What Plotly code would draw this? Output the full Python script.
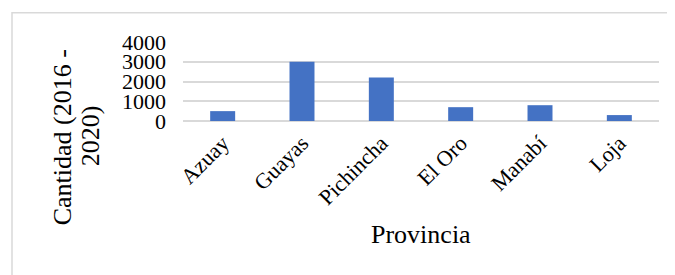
import plotly.graph_objects as go

provincias = ["Azuay", "Guayas", "Pichincha", "El Oro", "Manabí", "Loja"]
cantidad = [500, 3000, 2200, 700, 800, 300]
y_ticks = [0, 1000, 2000, 3000, 4000]

OFF = 8  # page body margin offset
W, H = 675, 275
PW, PH = 476, 80
L, T = 183 - OFF, 41.5 - OFF
R = W - L - PW
B = H - T - PH

def px_x(x):
    return (x - OFF - L) / PW

def px_y(y):
    return (T + PH - (y - OFF)) / PH

FONT = "Liberation Serif"
GRID = "#d9d9d9"

fig = go.Figure(go.Bar(x=provincias, y=cantidad, marker_color="#4472C4",
                       marker_line_width=0))

fig.update_layout(
    width=W, height=H,
    margin=dict(l=L, r=R, t=T, b=B, autoexpand=False),
    paper_bgcolor="white", plot_bgcolor="white",
    bargap=0.685,
    showlegend=False,
    font=dict(family=FONT, color="black", size=22),
)
fig.update_xaxes(showgrid=False, showline=False, tickangle=-45,
                 tickfont=dict(family=FONT, size=22, color="black"), ticks="",
                 ticklabelstandoff=4)
fig.update_yaxes(range=[0, 4000], tickvals=y_ticks,
                 ticktext=[str(v) for v in y_ticks],
                 showgrid=True, gridcolor=GRID, gridwidth=1.5,
                 zeroline=True, zerolinecolor=GRID, zerolinewidth=1.5,
                 tickfont=dict(family=FONT, size=22, color="black"), ticks="",
                 ticklabelstandoff=16)

fig.add_shape(type="rect", xref="paper", yref="paper",
              x0=px_x(12), x1=px_x(690), y0=px_y(295), y1=px_y(12),
              line=dict(color=GRID, width=1.5), fillcolor="rgba(0,0,0,0)",
              layer="below")

fig.add_annotation(text="Cantidad (2016 -", xref="paper", yref="paper",
                   x=px_x(62), y=px_y(138), textangle=-90, showarrow=False,
                   xanchor="center", yanchor="middle",
                   font=dict(family=FONT, size=26, color="black"))
fig.add_annotation(text="2020)", xref="paper", yref="paper",
                   x=px_x(90), y=px_y(137), textangle=-90, showarrow=False,
                   xanchor="center", yanchor="middle",
                   font=dict(family=FONT, size=26, color="black"))
fig.add_annotation(text="Provincia", xref="paper", yref="paper",
                   x=px_x(421), y=px_y(236), showarrow=False,
                   xanchor="center", yanchor="middle",
                   font=dict(family=FONT, size=26, color="black"))

fig.write_html("out.html")
